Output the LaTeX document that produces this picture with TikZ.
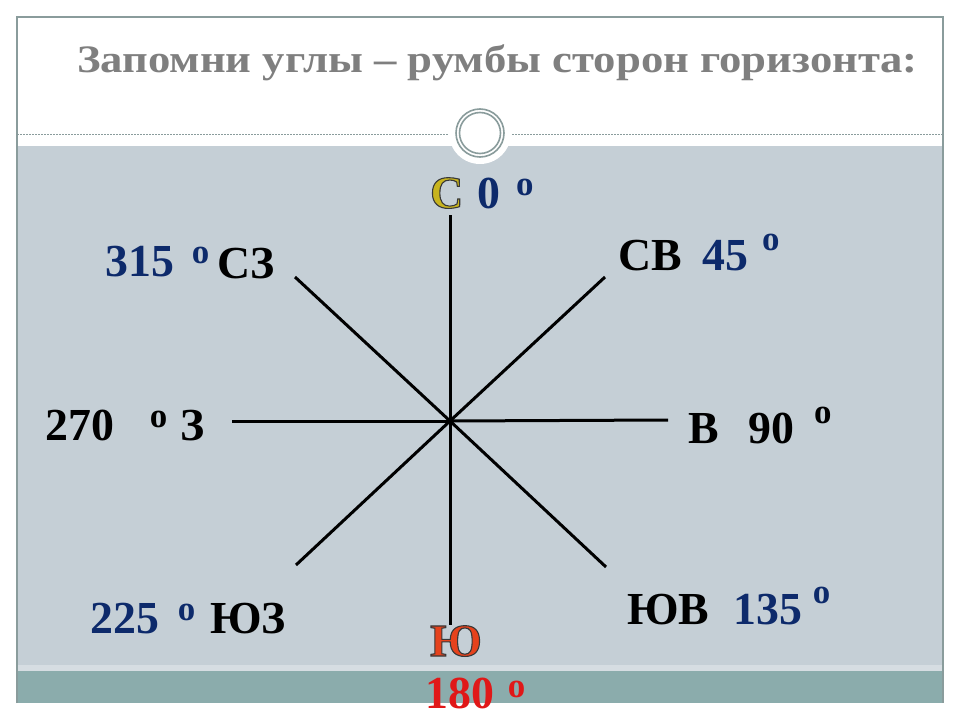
\documentclass[tikz,border=0pt]{standalone}
\usepackage{fontspec}
\setmainfont{Liberation Serif}
\usepackage{tikz}

\definecolor{navy}{HTML}{0D2A6B}
\definecolor{goldc}{HTML}{C8B41E}
\definecolor{southred}{HTML}{E5421C}
\definecolor{rednum}{HTML}{E01818}
\definecolor{panel}{HTML}{C5CFD6}
\definecolor{strip}{HTML}{8BACAC}
\definecolor{framec}{HTML}{8A9C9C}
\definecolor{titlegray}{HTML}{7F7F7F}

% raised letter o used as the degree mark: gap, lift
\newcommand{\dgr}[2]{\hspace{#1bp}\raisebox{#2bp}{\fontsize{35}{35}\selectfont o}}
% letter filled in colour with a dark edge
\newcommand{\edged}[2]{\textcolor{#1}{\special{pdf:code q 2 Tr 1.1 w 0.22 0.22 0.22 RG}#2\special{pdf:code Q}}}

\begin{document}
\begin{tikzpicture}[x=1bp, y=-1bp,
	lbl/.style={anchor=base west, inner sep=0pt, font=\fontsize{46}{46}\selectfont\bfseries},
	num/.style={lbl, text=navy},
	ray/.style={line width=3bp, black}]
				\fill[white] (0,0) rectangle (960,720);
				\useasboundingbox (0,0) rectangle (960,720);
				
				% Slide
				\fill[panel] (17,146) rectangle (943,665);
				\fill[panel!70!white] (17,665) rectangle (943,671);
				\fill[strip] (17,671) rectangle (943,703);
				\draw[framec, line width=1.2bp] (17,703) -- (17,17) -- (943,17) -- (943,703);
				\draw[framec, line width=0.6bp, dash pattern=on 2bp off 1bp] (17,134) -- (943,134);
				\fill[white] (480,133) circle (31);
				\draw[framec, line width=1.6bp] (480,133) circle (24) (480,133) circle (20.5);
				
				\node (title) [anchor=base west, inner sep=0pt, text=titlegray, font=\fontsize{39}{39}\selectfont\bfseries] at (77,73) {\scalebox{1.15}[1]{Запомни углы – румбы сторон горизонта:}};
				
				% Rays
				\coordinate (c) at (450,421);
				\coordinate (n) at (450,215);
				\coordinate (s) at (450,625);
				\coordinate (w) at (232,421);
				\coordinate (e) at (668,420);
				\coordinate (nw) at (295,277);
				\coordinate (ne) at (605,277);
				\coordinate (sw) at (296,565);
				\coordinate (se) at (606,567);
				\draw[ray] (c) -- (n);
				\draw[ray] (c) -- (s);
				\draw[ray] (c) -- (w);
				\draw[ray] (c) -- (e);
				\draw[ray] (c) -- (nw);
				\draw[ray] (c) -- (ne);
				\draw[ray] (c) -- (sw);
				\draw[ray] (c) -- (se);
				
				% Labels
				\node (nname) [lbl] at (430,208) {\edged{goldc}{С}};
				\node (ndeg) [num] at (477,208) {0\dgr{16}{13}};
				\node (nename) [lbl] at (618,270) {СВ};
				\node (nedeg) [num] at (702,270) {45\dgr{14}{20}};
				\node (ename) [lbl] at (688,443) {В};
				\node (edeg) [lbl] at (748,443) {90\dgr{20}{20}};
				\node (sename) [lbl] at (627,624) {ЮВ};
				\node (sedeg) [num] at (733,624) {135\dgr{11}{21}};
				\node (sname) [lbl] at (430,656) {\edged{southred}{Ю}};
				\node (sdeg) [lbl, text=rednum] at (425,708) {180\dgr{14}{11}};
				\node (swdeg) [num] at (90,633) {225\dgr{19}{13}};
				\node (swname) [lbl] at (210,633) {ЮЗ};
				\node (wdeg) [lbl] at (45,440) {270\dgr{36}{13}};
				\node (wname) [lbl] at (180,440) {З};
				\node (nwdeg) [num] at (105,276) {315\dgr{18}{13}};
				\node (nwname) [lbl] at (217,278) {СЗ};
				
			\end{tikzpicture}
\end{document}
